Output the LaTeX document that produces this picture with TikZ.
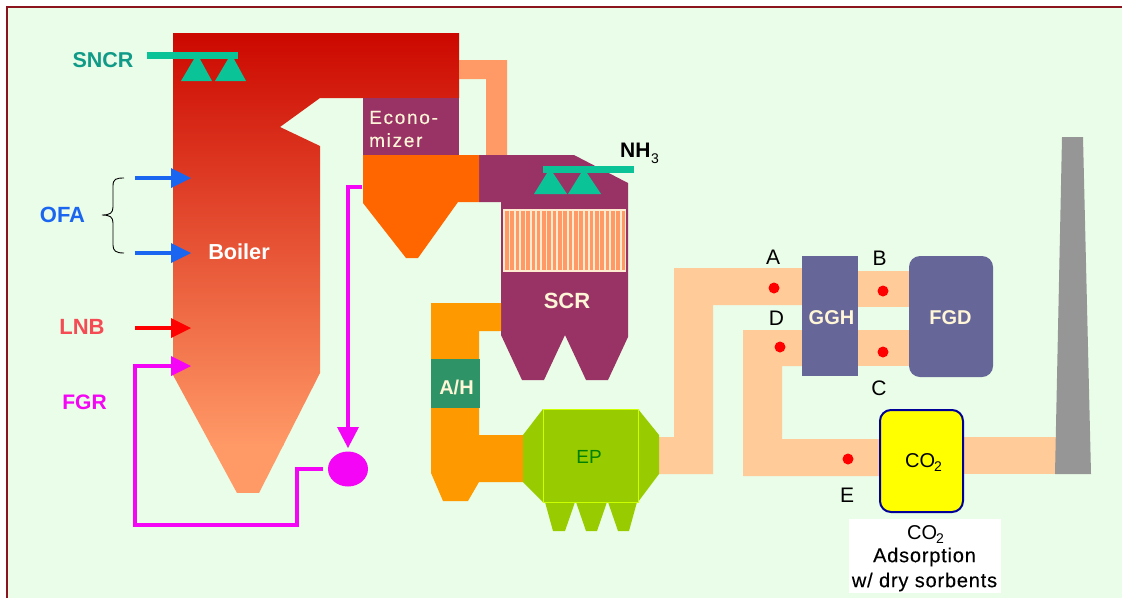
\documentclass[tikz,border=0pt]{standalone}
\usepackage{fontspec}
\setmainfont{Liberation Sans}
\newfontfamily\capfont[LetterSpace=4,FakeBold=0.25]{Liberation Sans}
\newfontfamily\econfont[LetterSpace=9,FakeBold=0.15]{Liberation Sans}
\usetikzlibrary{shapes.geometric}
\definecolor{bgc}{RGB}{234,253,232}
\definecolor{frame}{RGB}{140,20,30}
\definecolor{purp}{RGB}{153,51,102}
\definecolor{peach}{RGB}{255,204,153}
\definecolor{salmon}{RGB}{255,153,102}
\definecolor{ductor}{RGB}{255,153,0}
\definecolor{hopor}{RGB}{255,102,0}
\definecolor{tealc}{RGB}{10,195,150}
\definecolor{tealt}{RGB}{15,155,135}
\definecolor{slate}{RGB}{102,102,153}
\definecolor{ahg}{RGB}{46,148,104}
\definecolor{epg}{RGB}{153,204,0}
\definecolor{bluec}{RGB}{26,102,240}
\definecolor{cream}{RGB}{255,245,215}
\definecolor{catcream}{RGB}{255,236,208}
\definecolor{lnbc}{RGB}{245,75,85}
\definecolor{mag}{RGB}{245,5,245}
\definecolor{stack}{RGB}{150,150,150}
\definecolor{boxblue}{RGB}{0,0,153}
\definecolor{redtop}{RGB}{204,8,0}
\definecolor{purey}{RGB}{255,255,0}
\definecolor{eplin}{RGB}{204,255,0}
\definecolor{eptxt}{RGB}{0,128,0}
\definecolor{purer}{RGB}{255,0,0}
\tikzset{
  x=1pt,y=-1pt,
  lbl/.style={inner sep=0pt,font=\fontsize{#1}{#1}\selectfont},
  blbl/.style={inner sep=0pt,font=\fontsize{#1}{#1}\selectfont\bfseries},
  pipe/.style={line width=4.6pt,draw=#1},
  dot/.style={circle,fill=purer,minimum size=11pt,inner sep=0pt,draw=none},
}
\newcommand{\inarrow}[3]{% y, colour, name
  \coordinate (#3s) at (135,#1);
  \coordinate (#3e) at (172,#1);
  \draw[pipe=#2] (#3s) -- (#3e);
  \fill[#2] (171,#1-10) -- (191,#1) -- (171,#1+10) -- cycle;
}
\begin{document}
\begin{tikzpicture}
\useasboundingbox (0,0) rectangle (1122,598);
\fill[white] (0,0) rectangle (1122,598);
\fill[bgc] (7,7) rectangle (1122,598);
\draw[frame,line width=2pt] (7,598) -- (7,7) -- (1122,7);
% boiler
\begin{scope}
\clip (173,33) -- (459,33) -- (459,98) -- (320,98) -- (280,127) -- (320,146) -- (320,373) -- (259,493) -- (237,493) -- (173,375) -- cycle;
\shade[top color=redtop,bottom color=salmon] (173,33) rectangle (459,445);
\fill[salmon] (173,444) rectangle (459,493);
\end{scope}
% duct from boiler to SCR
\fill[salmon] (459,60) -- (507,60) -- (507,155) -- (486,155) -- (486,79) -- (459,79) -- cycle;
% SCR
\fill[purp] (479,155) -- (574,155) -- (628,183) -- (628,337) -- (608,380) -- (586,380) -- (565,335) -- (544,380) -- (522,380) -- (501,335) -- (501,202) -- (479,202) -- cycle;
\fill[catcream] (503,209) rectangle (626,272);
\foreach \i in {0,...,22} \fill[salmon] ({505+5.3*\i},211) rectangle ({505+5.3*\i+3.6},270);
\node[blbl=22,text=cream] (scr) at (567,301) {SCR};
% economizer and hopper
\fill[purp] (363,98) rectangle (459,155);
\node[inner sep=0pt,text=cream,align=left,anchor=west,font=\fontsize{19}{23}\econfont] (econ) at (369,129) {Econo-\\mizer};
\fill[hopor] (363,155) -- (479,155) -- (479,202) -- (458,202) -- (418,258) -- (406,258) -- (363,203) -- cycle;
% SNCR
\fill[tealc] (147,52) rectangle (238,59);
\fill[tealc] (181,81) -- (212,81) -- (200,59) -- (194,59) -- cycle;
\fill[tealc] (215,81) -- (246,81) -- (234,59) -- (228,59) -- cycle;
\node[blbl=21.5,text=tealt] (sncr) at (103,60) {SNCR};
% NH3
\fill[tealc] (543,166) rectangle (634,173);
\fill[tealc] (534,194) -- (567,194) -- (553,173) -- (547,173) -- cycle;
\fill[tealc] (568,194) -- (601,194) -- (587,173) -- (581,173) -- cycle;
\node[blbl=21,anchor=west] (nh3) at (620,150) {NH};
\node[lbl=14,anchor=west] (nh3sub) at (651,159) {3};
% air inlets
\inarrow{178}{bluec}{ofaa}
\inarrow{253}{bluec}{ofab}
\inarrow{328}{purer}{lnb}
\node[blbl=22,text=bluec] (ofa) at (62.5,215) {OFA};
\node[blbl=22,text=lnbc] (lnbt) at (82,327) {LNB};
\node[blbl=21,text=mag] (fgrt) at (84.5,402) {FGR};
\node[blbl=21.7,text=white] (boiler) at (239,252) {Boiler};
\draw[black,line width=0.9pt] (124,178) .. controls (116,178) and (113,179) .. (113,186) -- (113,207) .. controls (113,213) and (110,215) .. (102,215) .. controls (110,215) and (113,217) .. (113,223) -- (113,245) .. controls (113,251) and (116,253) .. (124,253);
% FGR loop
\node[ellipse,fill=mag,minimum width=40pt,minimum height=35pt,inner sep=0pt,draw=none] (fan) at (348,469) {};
\coordinate (fgrout) at (323,469);
\coordinate (fgrc1) at (297,469);
\coordinate (fgrc2) at (297,525);
\coordinate (fgrc3) at (135,525);
\coordinate (fgrc4) at (135,366);
\coordinate (fgrend) at (172,366);
\draw[pipe=mag] (fgrout) -- (fgrc1) -- (fgrc2) -- (fgrc3) -- (fgrc4) -- (fgrend);
\fill[mag] (171,356) -- (191,366) -- (171,376) -- cycle;
\coordinate (ash) at (362,187);
\coordinate (ashc) at (348,187);
\coordinate (ashe) at (348,428);
\draw[pipe=mag] (ash) -- (ashc) -- (ashe);
\fill[mag] (337,427) -- (359,427) -- (348,448) -- cycle;
% orange duct and air heater
\fill[ductor] (431,303) -- (501,303) -- (501,331) -- (479,331) -- (479,435) -- (525,435) -- (525,482) -- (479,482) -- (468,501) -- (443,501) -- (431,473) -- cycle;
\fill[ahg] (431,359) rectangle (480,408);
\node[blbl=20,text=cream] (ah) at (456.5,387) {A/H};
% peach ducts
\fill[peach] (659,437) -- (674,437) -- (674,268) -- (805,268) -- (805,305) -- (713,305) -- (713,474) -- (659,474) -- cycle;
\fill[peach] (855,271) rectangle (912,307);
\fill[peach] (855,330) rectangle (912,366);
\fill[peach] (805,330) -- (743,330) -- (743,476) -- (885,476) -- (885,439) -- (782,439) -- (782,366) -- (805,366) -- cycle;
\fill[peach] (960,437) rectangle (1058,474);
% EP
\fill[epg] (545,502) -- (575,502) -- (565,531) -- (553,531) -- cycle;
\fill[epg] (576,502) -- (607,502) -- (597,531) -- (586,531) -- cycle;
\fill[epg] (608,502) -- (637,502) -- (629,531) -- (618,531) -- cycle;
\fill[epg] (543,409) -- (638,409) -- (659,435) -- (659,474) -- (638,502) -- (543,502) -- (523,482) -- (523,435) -- cycle;
\draw[eplin,line width=0.9pt] (543,409) rectangle (638,502);
\node[lbl=19,text=eptxt] (ep) at (589,457) {EP};
% GGH FGD CO2
\node[fill=slate,minimum width=56pt,minimum height=120pt,inner sep=0pt] (ggh) at (830,316) {};
\node[blbl=20,text=cream] (gghl) at (831.5,318) {GGH};
\node[fill=slate,rounded corners=11pt,minimum width=84pt,minimum height=121pt,inner sep=0pt] (fgd) at (951,316.5) {};
\node[blbl=20,text=cream] (fgdl) at (950.5,318) {FGD};
\node[fill=purey,draw=boxblue,line width=2pt,rounded corners=11pt,minimum width=83pt,minimum height=102pt,inner sep=0pt] (co2) at (921.5,461) {};
\node[lbl=20,anchor=west] (co2l) at (905,461) {CO};
\node[lbl=14,anchor=west] (co2s) at (934,467) {2};
% stack
\fill[stack] (1062,137) -- (1083,137) -- (1091,474) -- (1055,474) -- cycle;
% sample points
\node[dot] (pa) at (774,288) {};
\node[dot] (pb) at (883,291) {};
\node[dot] (pc) at (883,352) {};
\node[dot] (pd) at (780,347) {};
\node[dot] (pe) at (848,459) {};
\node[lbl=21] (la) at (773,257) {A};
\node[lbl=21] (lb) at (879.5,258) {B};
\node[lbl=21] (lc) at (879,388) {C};
\node[lbl=21] (ld) at (776.5,318) {D};
\node[lbl=21] (le) at (847,495) {E};
% caption
\fill[white] (849,519) rectangle (1001,593);
\node[lbl=20,anchor=west] (cap1) at (907,533) {CO};
\node[lbl=14,anchor=west] (cap1s) at (936,539) {2};
\node[inner sep=0pt,font=\fontsize{20}{20}\capfont] (cap2) at (924.5,557) {Adsorption};
\node[inner sep=0pt,font=\fontsize{20}{20}\capfont] (cap3) at (924.5,582) {w/ dry sorbents};
\end{tikzpicture}
\end{document}
